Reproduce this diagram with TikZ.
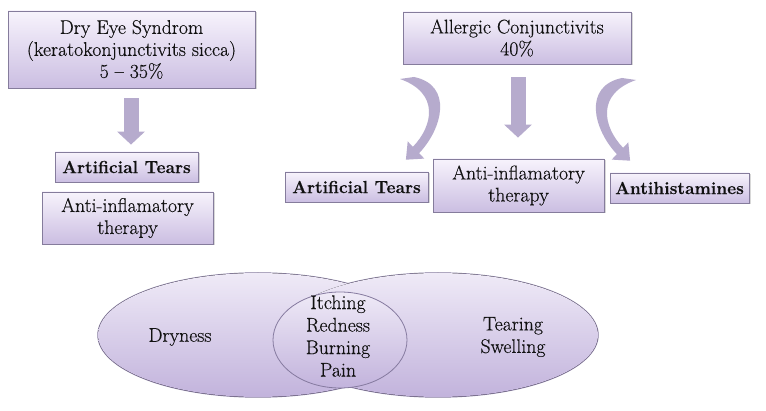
\documentclass[tikz,border=0pt]{standalone}
\usepackage{fontspec}
\newfontfamily\regfont{Latin Modern Roman}[FakeBold=0.35, Ligatures=TeX]
\usetikzlibrary{arrows.meta,shadows,shapes.geometric}
\definecolor{boxtop}{HTML}{F7F3FC}
\definecolor{boxbot}{HTML}{CBBEE2}
\definecolor{boxline}{HTML}{857C9C}
\definecolor{arrowcol}{HTML}{B6ABCD}
\definecolor{elltop}{HTML}{EFEAF7}
\definecolor{ellbot}{HTML}{C2B3DC}
\definecolor{ellline}{HTML}{857A9F}
\definecolor{txtcol}{HTML}{111111}
\begin{document}
\begin{tikzpicture}[x=1pt,y=-1pt,
  box/.style={draw=boxline, line width=0.8pt, top color=boxtop, bottom color=boxbot,
    inner sep=0pt, align=center, text=txtcol,
    font=\regfont\fontsize{19.8}{22}\selectfont,
    drop shadow={shadow xshift=1.5pt,shadow yshift=-1.5pt,opacity=0.3}},
  boldbox/.style={box, font=\regfont\fontsize{17.4}{20}\selectfont\bfseries},
  downarrow/.style={draw=arrowcol, line width=15pt, -{Triangle[length=13pt,width=27pt]}},
  ell/.style={ellipse, draw=ellline, line width=1.4pt, top color=elltop, bottom color=ellbot, inner sep=0pt},
  ellrefill/.style={top color=elltop, bottom color=ellbot},
  lbl/.style={align=center, text=txtcol, inner sep=0pt, font=\regfont\fontsize{19.8}{22.5}\selectfont}
]
\fill[white] (0,0) rectangle (766,411);
\useasboundingbox (0,0) rectangle (766,411);

% left column
\node[box, minimum width=247pt, minimum height=77pt] (A) at (131.5,49.5)
  {Dry Eye Syndrom\\(keratokonjunctivits sicca)\\5 – 35\%};
\node[boldbox, minimum width=143pt, minimum height=30pt] (B) at (126.5,167) {Artificial Tears};
\node[box, minimum width=171pt, minimum height=52pt] (C) at (127.5,218) {Anti-inflamatory\\therapy};
\draw[downarrow, shorten <=10pt, shorten >=7pt] (A.south -| 131,0) -- (B.north -| 131,0);

% right column
\node[box, minimum width=228pt, minimum height=52pt] (D) at (517,38) {Allergic Conjunctivits\\40\%};
\node[boldbox, minimum width=143pt, minimum height=30pt] (E) at (356.5,187) {Artificial Tears};
\node[box, minimum width=171pt, minimum height=53pt] (F) at (518.5,185.5) {Anti-inflamatory\\therapy};
\node[boldbox, minimum width=139pt, minimum height=30pt] (G) at (679.5,188) {Antihistamines};
\draw[downarrow, shorten <=13pt, shorten >=21pt] (D.south -| 518,0) -- (F.north -| 518,0);

% curved arrows
\fill[arrowcol] (400,79) -- (414,77) .. controls (453,85) and (443,128) .. (419.1,153.2)
  -- (424.3,158.6) -- (405.9,159.7) -- (407.7,141.4) -- (412.9,146.8)
  .. controls (433,126) and (440,93) .. (400,79) -- cycle;
\begin{scope}[shift={(1036,1)}, xscale=-1]
\fill[arrowcol] (400,79) -- (414,77) .. controls (453,85) and (443,128) .. (419.1,153.2)
  -- (424.3,158.6) -- (405.9,159.7) -- (407.7,141.4) -- (412.9,146.8)
  .. controls (433,126) and (440,93) .. (400,79) -- cycle;
\end{scope}

% Venn ellipses
\node[ell, minimum width=320pt, minimum height=124pt] (E1) at (258,335) {};
\node[ell, minimum width=320pt, minimum height=124pt] (E2) at (438,335) {};
\fill[ellrefill] (E1.center) ellipse [x radius=160pt, y radius=62pt];
\fill[ellrefill] (E2.center) ellipse [x radius=160pt, y radius=62pt];
\node[ellipse, draw=ellline, line width=0.8pt, top color=elltop, bottom color=ellbot,
  inner sep=0pt, minimum width=134pt, minimum height=96pt] (E3) at (340,340) {};

\node[lbl] (dry) at (180,337) {Dryness};
\node[lbl] (tear) at (513,337) {Tearing\\Swelling};
\node[lbl] (sym) at (338,336) {Itching\\Redness\\Burning\\Pain};
\end{tikzpicture}
\end{document}
